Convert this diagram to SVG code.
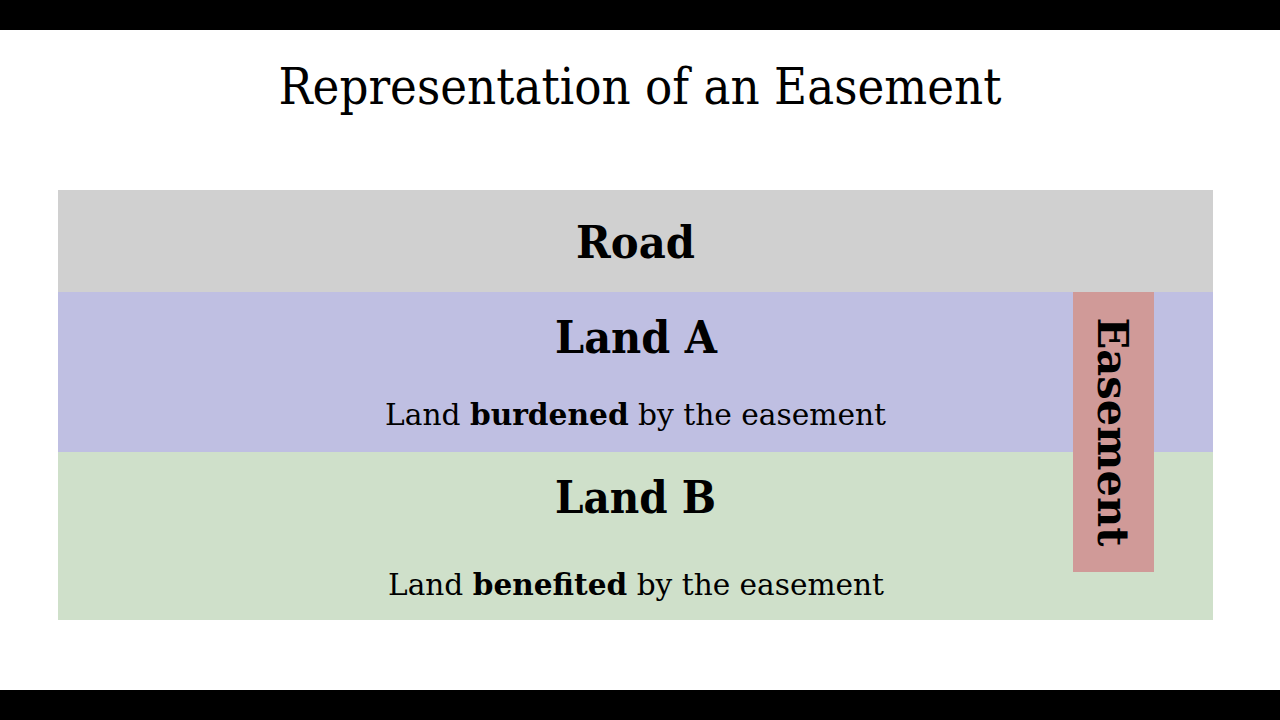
<svg xmlns="http://www.w3.org/2000/svg" width="1280" height="720" viewBox="0 0 1280 720">
<style>
.t{font-family:"DejaVu Serif","Liberation Serif",serif;fill:#000}
.b{font-weight:bold}
</style>
<rect x="0" y="0" width="1280" height="720" fill="#fff"/>
<rect x="0" y="0" width="1280" height="30" fill="#000"/>
<rect x="0" y="690" width="1280" height="30" fill="#000"/>
<text class="t" x="640" y="104" font-size="50" text-anchor="middle" textLength="723" lengthAdjust="spacingAndGlyphs">Representation of an Easement</text>
<g id="road">
<rect x="58" y="190" width="1155" height="102" fill="#d0d0d0"/>
<text class="t b" x="635.5" y="258" font-size="44" text-anchor="middle" textLength="119" lengthAdjust="spacingAndGlyphs">Road</text>
</g>
<g id="landA">
<rect x="58" y="292" width="1155" height="160" fill="#bfbfe2"/>
<text class="t b" x="636" y="353" font-size="44" text-anchor="middle" textLength="162" lengthAdjust="spacingAndGlyphs">Land A</text>
<text class="t" x="635.5" y="425" font-size="30" text-anchor="middle" textLength="501" lengthAdjust="spacingAndGlyphs">Land <tspan class="b">burdened</tspan> by the easement</text>
</g>
<g id="landB">
<rect x="58" y="452" width="1155" height="168" fill="#cfe0ca"/>
<text class="t b" x="635.5" y="513" font-size="44" text-anchor="middle" textLength="161" lengthAdjust="spacingAndGlyphs">Land B</text>
<text class="t" x="636" y="595" font-size="30" text-anchor="middle" textLength="496" lengthAdjust="spacingAndGlyphs">Land <tspan class="b">benefited</tspan> by the easement</text>
</g>
<g id="easement">
<rect x="1073" y="292" width="81" height="280" fill="#d09a98"/>
<text class="t b" transform="translate(1098,432) rotate(90)" x="0" y="0" font-size="42" text-anchor="middle" textLength="229" lengthAdjust="spacingAndGlyphs">Easement</text>
</g>
<g id="connectors"></g>
</svg>
